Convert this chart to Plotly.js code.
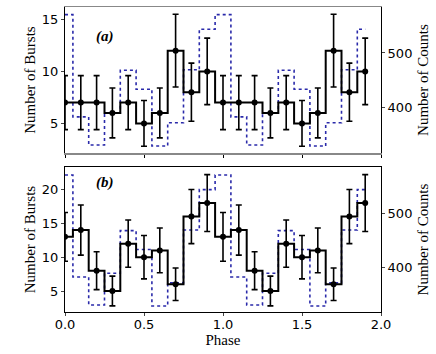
<!DOCTYPE html>
<html>
<head>
<meta charset="utf-8">
<script src="https://cdn.plot.ly/plotly-3.0.1.min.js"></script>
<style>
  html, body { margin: 0; padding: 0; background: #fff; }
  #plot { width: 436px; height: 354px; }
</style>
</head>
<body>
<div id="plot"></div>
<script>
// phase bins (two cycles)
let phase = [0.0, 0.1, 0.2, 0.3, 0.4, 0.5, 0.6, 0.7, 0.8, 0.9,
             1.0, 1.1, 1.2, 1.3, 1.4, 1.5, 1.6, 1.7, 1.8, 1.9];

// panel (a): bursts and errors
let burstsA = [7, 7, 7, 6, 7, 5, 6, 12, 8, 10,
               7, 7, 7, 6, 7, 5, 6, 12, 8, 10];
let errA = [2.6, 2.6, 2.6, 2.4, 2.6, 2.2, 2.4, 3.5, 2.8, 3.2,
            2.6, 2.6, 2.6, 2.4, 2.6, 2.2, 2.4, 3.5, 2.8, 3.2];

// panel (b): bursts and errors
let burstsB = [13, 14, 8, 5, 12, 10, 11, 6, 16, 18,
               13, 14, 8, 5, 12, 10, 11, 6, 16, 18];
let errB = [3.6, 3.7, 2.8, 2.2, 3.5, 3.2, 3.3, 2.4, 4.0, 4.2,
            3.6, 3.7, 2.8, 2.2, 3.5, 3.2, 3.3, 2.4, 4.0, 4.2];

// pulse profile counts (dotted, right axis)
let counts = [571, 382, 330, 389, 468, 433, 328, 371, 469, 544,
              571, 382, 330, 389, 468, 433, 328, 371, 469, 544];

let blue = "#2a2aaa";
let serif = "Liberation Serif, Times New Roman, serif";
let sans = "DejaVu Sans, sans-serif";

function countsTrace(xa, ya) {
  return {
    x: phase, y: counts, xaxis: xa, yaxis: ya,
    type: "scatter", mode: "lines",
    line: {shape: "hvh", color: blue, width: 1.6, dash: "dot"},
    hoverinfo: "skip"
  };
}

function burstTrace(vals, errs, xa, ya) {
  return {
    x: phase, y: vals, xaxis: xa, yaxis: ya,
    type: "scatter", mode: "lines+markers",
    line: {shape: "hvh", color: "black", width: 2},
    marker: {color: "black", size: 6},
    error_y: {type: "data", array: errs, visible: true,
              color: "black", thickness: 1.6, width: 3}
  };
}

let data = [
  countsTrace("x", "y"),
  burstTrace(burstsA, errA, "x", "y2"),
  countsTrace("x2", "y3"),
  burstTrace(burstsB, errB, "x2", "y4")
];

let tickFont = {family: sans, size: 13, color: "black"};
let titleFont = {family: serif, size: 15, color: "black"};

let layout = {
  width: 436, height: 354,
  margin: {l: 65, r: 55, t: 7, b: 42},
  showlegend: false,
  paper_bgcolor: "white", plot_bgcolor: "white",
  xaxis: {
    domain: [0, 1], anchor: "y", range: [0, 2], dtick: 0.5,
    showticklabels: false, showgrid: false, zeroline: false,
    showline: true, linecolor: "#888", linewidth: 1.5, mirror: true,
    ticks: "outside", ticklen: 3, tickcolor: "black"
  },
  // counts axis (right), base of top panel
  yaxis: {
    domain: [0.521, 1], anchor: "x", side: "right", range: [315, 585],
    dtick: 100, showgrid: false, zeroline: false,
    showline: true, linecolor: "black", linewidth: 1,
    ticks: "outside", ticklen: 3, tickfont: tickFont,
    title: {text: "Number of Counts", font: titleFont, standoff: 6}
  },
  // bursts axis (left), overlay of top panel
  yaxis2: {
    overlaying: "y", anchor: "x", side: "left", range: [2.14, 16.2],
    dtick: 5, showgrid: false, zeroline: false,
    showline: true, linecolor: "black", linewidth: 1,
    ticks: "outside", ticklen: 3, tickfont: tickFont,
    title: {text: "Number of Bursts", font: titleFont, standoff: 2}
  },
  xaxis2: {
    domain: [0, 1], anchor: "y3", range: [0, 2], dtick: 0.5,
    tickformat: ".1f", showgrid: false, zeroline: false,
    showline: true, linecolor: "black", linewidth: 1, mirror: true,
    ticks: "outside", ticklen: 3, tickfont: tickFont, ticklabelstandoff: -3,
    title: {text: "Phase", font: titleFont, standoff: 0}
  },
  yaxis3: {
    domain: [0, 0.475], anchor: "x2", side: "right", range: [317, 585.7],
    dtick: 100, showgrid: false, zeroline: false,
    showline: true, linecolor: "black", linewidth: 1,
    ticks: "outside", ticklen: 3, tickfont: tickFont,
    title: {text: "Number of Counts", font: titleFont, standoff: 6}
  },
  yaxis4: {
    overlaying: "y3", anchor: "x2", side: "left", range: [1.9, 23.3],
    dtick: 5, showgrid: false, zeroline: false,
    showline: true, linecolor: "black", linewidth: 1,
    ticks: "outside", ticklen: 3, tickfont: tickFont,
    title: {text: "Number of Bursts", font: titleFont, standoff: 2}
  },
  annotations: [
    {text: "<b><i>(a)</i></b>", xref: "x", yref: "paper", x: 0.25, y: 0.938,
     showarrow: false, font: {family: serif, size: 15, color: "black"}},
    {text: "<b><i>(b)</i></b>", xref: "x2", yref: "paper", x: 0.25, y: 0.423,
     showarrow: false, font: {family: serif, size: 15, color: "black"}}
  ]
};

Plotly.newPlot("plot", data, layout, {displayModeBar: false, staticPlot: true});
</script>
</body>
</html>
